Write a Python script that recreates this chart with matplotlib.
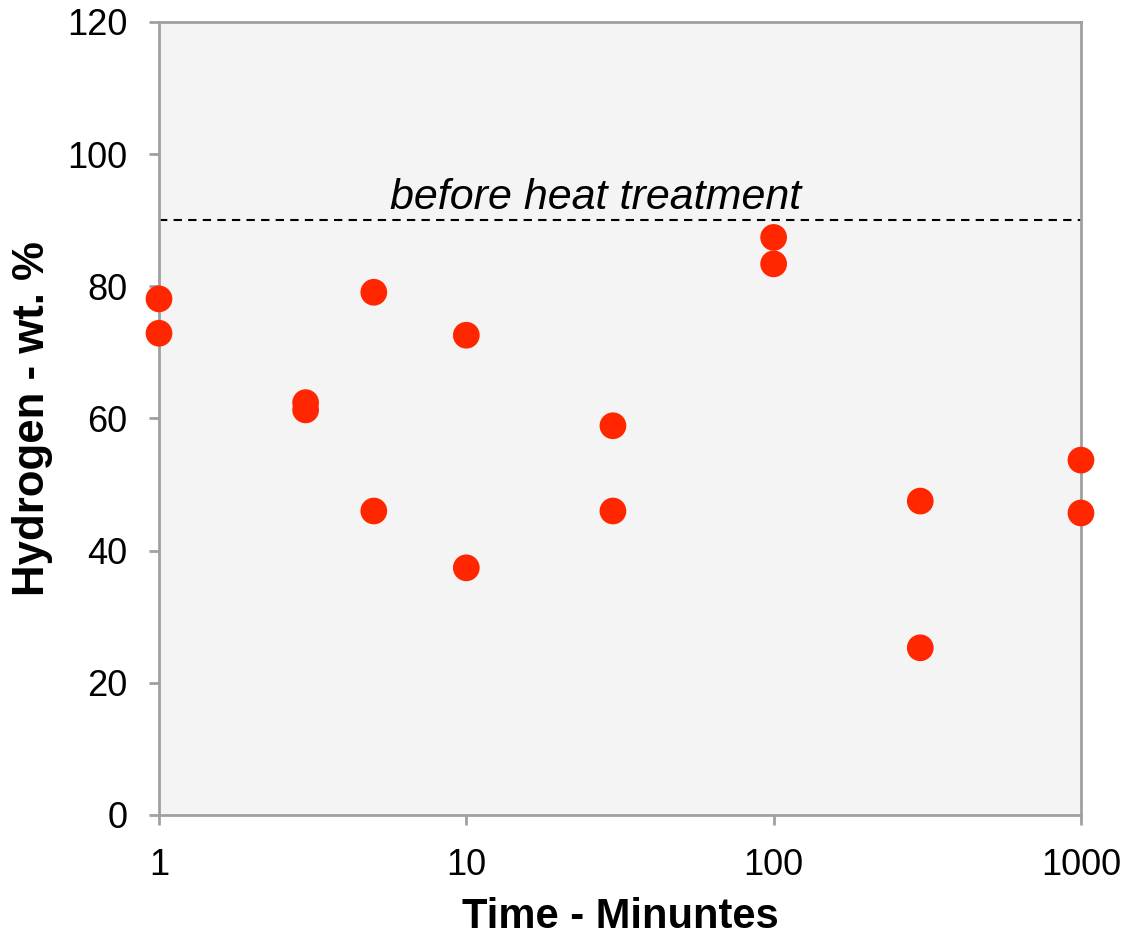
import matplotlib
matplotlib.use("Agg")
from matplotlib import pyplot as plt

plt.rcParams['font.family'] = ['Liberation Sans', 'DejaVu Sans']

# 数据
time_min = [1, 1, 3, 3, 5, 5, 10, 10, 30, 30, 100, 100, 300, 300, 1000, 1000]
hydrogen = [78.1, 72.9, 62.4, 61.3, 79.1, 46.0, 72.6, 37.4, 58.9, 46.0,
            87.4, 83.4, 47.5, 25.3, 53.7, 45.7]
before_level = 90
x_ticks = [1, 10, 100, 1000]
x_tick_labels = ["1", "10", "100", "1000"]
y_ticks = [0, 20, 40, 60, 80, 100, 120]

fig = plt.figure(figsize=(11.26, 9.4), dpi=100)
ax = fig.add_axes([0.1412, 0.133, 0.8188, 0.8436])
ax.set_facecolor("#F4F4F4")

ax.scatter(time_min, hydrogen, s=370, color="#FF2600", edgecolors="none",
           zorder=3, clip_on=False)
ax.axhline(before_level, color="black", linestyle=(0, (4, 3)), linewidth=1.5, zorder=2)
ax.text(26.3, 93.4, "before heat treatment", fontsize=31, style="italic",
        ha="center", va="center")

ax.set_xscale("log")
ax.set_xlim(1, 1000)
ax.set_ylim(0, 120)
ax.set_xticks(x_ticks)
ax.set_xticklabels(x_tick_labels)
ax.minorticks_off()
ax.set_yticks(y_ticks)

for s in ax.spines.values():
    s.set_color("#A0A0A0")
    s.set_linewidth(2)
ax.tick_params(axis="both", which="major", color="#A0A0A0", width=2, length=7.5,
               labelsize=26, direction="out")
ax.tick_params(axis="x", pad=16)
ax.tick_params(axis="y", pad=15)

ax.set_xlabel("Time - Minuntes", fontsize=30, fontweight="bold", labelpad=10)
ax.set_ylabel("Hydrogen - wt. %", fontsize=31.5, fontweight="bold", labelpad=10)

plt.savefig("out.png", dpi=100)
